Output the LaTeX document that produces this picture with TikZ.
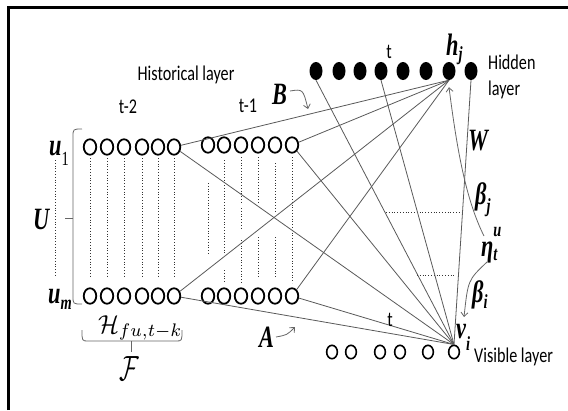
\documentclass[tikz,border=0pt]{standalone}
\usepackage{fontspec}
\usepackage{graphicx}
\usetikzlibrary{shapes.geometric,arrows.meta}
\newfontfamily\calib[FakeStretch=0.77]{Carlito}
\newfontfamily\tms[FakeStretch=0.72]{Liberation Serif}
\newcommand{\lsub}[2][-5pt]{\raisebox{#1}{\fontsize{20}{20}\selectfont #2}}
\begin{document}
\begin{tikzpicture}[x=1pt,y=-1pt,
  lab/.style={font=\calib\fontsize{21}{21}\selectfont, inner sep=0},
  sym/.style={font=\tms\bfseries\itshape\fontsize{31}{31}\selectfont, inner sep=0},
  hol/.style={ellipse, draw, line width=1.8pt, minimum width=12.5pt, minimum height=15.5pt, inner sep=0},
  vis/.style={ellipse, draw, line width=1.6pt, minimum width=10.7pt, minimum height=13.4pt, inner sep=0},
  hdot/.style={ellipse, fill=black, minimum width=13pt, minimum height=18pt, inner sep=0},
  conn/.style={draw=black!65, line width=0.8pt},
  dts/.style={draw=black!80, dotted, line width=0.8pt},
  thin/.style={draw=black!60, line width=0.8pt},
  carr/.style={draw=black!60, line width=0.8pt, -{Straight Barb[length=4pt,width=7pt]}}
]
\useasboundingbox (0,0) rectangle (568,410);
% frame
\draw[line width=2.2pt] (8.5,410) -- (8.5,7.5) -- (568,7.5);

% dotted verticals (behind circles)
\foreach \x in {90,107,124,142,158,174} \draw[dts] (\x,158) -- (\x,276);
\draw[dts] (55,160) -- (55,277);
\draw[dts] (208,183) -- (208,255);
\draw[dts] (224,160) -- (224,253) (224,270) -- (224,283);
\draw[dts] (241,157) -- (241,203) (241,208) -- (241,228) (241,240) -- (241,283);
\draw[dts] (258,157) -- (258,203) (258,237) -- (258,277);
\draw[dts] (275,163) -- (275,213) (275,237) -- (275,277);
\draw[dts] (292,157) -- (292,283);
% dotted horizontals
\draw[dts] (386,212) -- (462,212);
\draw[dts] (417,275) -- (456,275);

% historical layer circles
\foreach \x [count=\i] in {90,107,124,142,158,174} {
  \node[hol] (p\i) at (\x,147) {};
  \node[hol] (q\i) at (\x,296) {};
}
\foreach \x [count=\i] in {208,224,241,258,275,292} {
  \node[hol] (r\i) at (\x,145) {};
  \node[hol] (s\i) at (\x,296) {};
}
% hidden layer
\foreach \x [count=\i] in {316,339,360,381,403,426,449,471}
  \node[hdot] (h\i) at (\x,71) {};
% visible layer
\foreach \x [count=\i] in {332,351,380,400,428,454}
  \node[vis] (v\i) at (\x,352) {};

% connectors to h_j
\foreach \n in {p6,r6,q6,s6} \draw[conn] (\n) -- (h7.south);
% connectors to v_i
\foreach \n in {p6,r6,q6,s6} \draw[conn] (\n) -- (v6.north);
\foreach \n in {h1,h4,h8} \draw[conn] (\n.south) -- (v6.north);

% braces
\draw[thin] (82,129) .. controls (73,129) .. (73,137) -- (73,296) .. controls (73,304) .. (82,304);
\draw[thin] (73,218) -- (65,218);
\draw[thin] (82,330) .. controls (82,341) .. (88,341) -- (176,341) .. controls (182,341) .. (182,330);
\draw[thin] (131,341) -- (131,352);

% texts
\node[lab] (histl) at (186,75) {Historical layer};
\node[lab] (tm2) at (128,107) {t-2};
\node[lab] (tm1) at (248,106) {t-1};
\node[lab] (th) at (389,52) {t};
\node[lab] (tv) at (390,320) {t};
\node[lab,anchor=west] (hid1) at (488,62) {Hidden};
\node[lab,anchor=west] (hid2) at (488,90) {layer};
\node[lab,anchor=west] (visl) at (474,357) {Visible layer};

% symbols
\node[sym,anchor=base west] (u1) at (49,155) {u\lsub[-10pt]{\upshape\mdseries 1}};
\node[sym,anchor=base west] (um) at (48,303) {u\lsub[-6pt]{m}};
\node[sym,anchor=base west] (U) at (33,229) {U};
\node[sym,anchor=base west] (B) at (272,104) {B};
\node[sym,anchor=base west] (A) at (259,347) {A};
\node[sym,anchor=base west] (W) at (468,150) {W};
\node[sym,anchor=base west] (hj) at (446,55) {h\lsub[-5pt]{j}};
\node[sym,anchor=base west] (vi) at (456,338) {v\lsub[-12pt]{i}};
\node[sym,anchor=base west] (bj) at (475,204) {β\lsub[-8pt]{j}};
\node[sym,anchor=base west] (eta) at (481,256) {η\rlap{\lsub[-4pt]{t}}\lsub[20pt]{u}};
\node[sym,anchor=base west] (bi) at (472,302) {β\lsub[-6pt]{i}};

\node[inner sep=0,anchor=base west] (Hf) at (98,333) {\scalebox{2.45}[2.6]{$\mathcal{H}_{fu,t-k}$}};
\node[inner sep=0] (Fc) at (129,369) {\scalebox{2.4}[3.5]{$\mathcal{F}$}};

% curved arrows
\coordinate (Bs) at (290,91);
\coordinate (Be) at (308,109);
\draw[carr] (Bs) .. controls (303,89) .. (Be);
\coordinate (As) at (276,337);
\coordinate (Ae) at (295,327);
\draw[carr] (As) .. controls (287,335) .. (Ae);
\coordinate (Ws) at (484,236);
\draw[carr] (Ws) .. controls (466,200) and (457,150) .. ([yshift=-7pt]h7.south);
\coordinate (Is) at (487,262);
\coordinate (Ie) at (464,317);
\draw[carr] (Is) .. controls (468,280) .. (Ie);
\end{tikzpicture}
\end{document}
